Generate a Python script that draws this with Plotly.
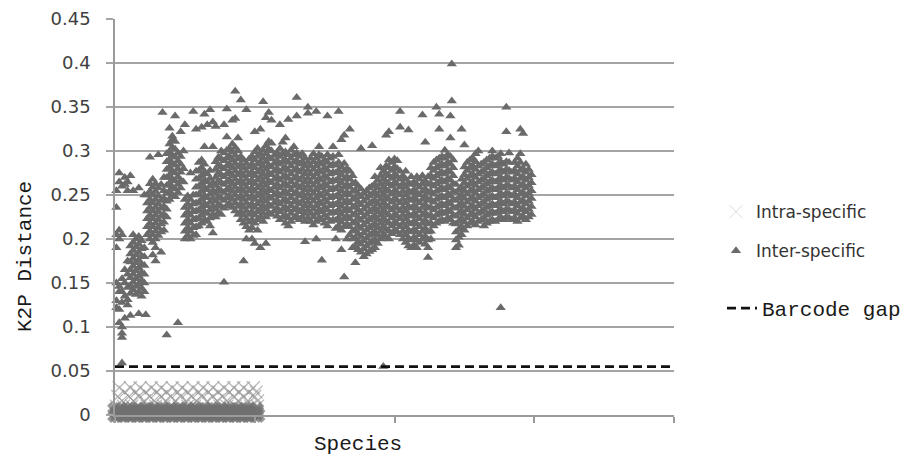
import plotly.graph_objects as go

# ---------------- data ----------------
y_tick_vals = [0, 0.05, 0.1, 0.15, 0.2, 0.25, 0.3, 0.35, 0.4, 0.45]
y_tick_labels = ["0", "0.05", "0.1", "0.15", "0.2", "0.25", "0.3", "0.35", "0.4", "0.45"]
x_tick_vals = [0, 100, 200, 300, 400]

barcode_gap = 0.055
gap_x = [0, 400]

# intra-specific distances: rows of equal distance, x = species index
intra_levels = [0.031, 0.026, 0.021, 0.016, 0.010, 0.006, 0.003, 0.0]
intra_species = [
    [3, 11, 18, 26, 33, 41, 48, 56, 63, 70, 78, 85, 92, 99],
    [7, 15, 22, 30, 37, 45, 52, 60, 67, 74, 82, 89, 96, 101],
    [2, 10, 17, 25, 33, 40, 47, 55, 62, 70, 77, 85, 92, 100],
    [5, 13, 21, 28, 36, 43, 51, 58, 66, 73, 80, 88, 95, 102],
    [1, 6, 12, 17, 23, 29, 35, 40, 46, 52, 57, 63, 69, 75, 80, 86, 92, 97, 102],
    [0, 4, 9, 12, 16, 21, 24, 28, 33, 36, 40, 45, 48, 52, 57, 60, 64, 69, 72, 76, 81, 84, 88, 93, 96, 101],
    [2, 5, 8, 11, 14, 18, 21, 24, 27, 30, 34, 37, 40, 43, 46, 50, 53, 56, 59, 62, 66, 69, 72, 75, 78, 82, 85, 88, 91, 94, 98, 101],
    [0, 2, 5, 7, 10, 12, 15, 17, 20, 22, 25, 27, 30, 32, 35, 37, 40, 42, 45, 47, 50, 52, 55, 57, 60, 62, 65, 67, 70, 72, 75, 77, 80, 82, 85, 87, 90, 92, 95, 97, 100, 102],
]

# inter-specific distances: species index -> list of distances
inter_species = [
    1, 3, 5, 7, 9, 11, 13, 15, 17, 19, 21, 22, 23, 25, 27, 29, 31, 33, 34, 35,
    37, 39, 41, 43, 45, 47, 49, 50, 52, 54, 56, 58, 60, 62, 64, 66, 68, 70,
    72, 74, 76, 78, 80, 82, 84, 86, 88, 90, 92, 94, 96, 98, 100, 102,
    104, 106, 108, 110, 112, 114, 116, 118, 120, 122, 124, 126, 128, 130,
    132, 134, 136, 138, 140, 142, 144, 146, 148, 150, 152, 154, 156, 158, 160, 162, 164, 166, 168, 170,
    172, 174, 176, 178, 180, 182, 184, 186, 188,
    190, 192, 194, 196, 198, 200, 202, 204, 206,
    208, 210, 212, 214, 216, 218, 220, 222, 224, 226,
    228, 230, 232, 234, 236, 238, 240, 241, 242,
    244, 246, 248, 250,
    252, 254, 256, 258, 260, 262, 264, 266, 268, 270, 272,
    274, 276, 278, 280, 282, 284, 286, 288, 290, 292, 294, 296, 298,
]
inter_dist = [
    [0.122, 0.13, 0.15, 0.19, 0.205, 0.236, 0.255],
    [0.105, 0.12, 0.14, 0.146, 0.2, 0.21, 0.265, 0.275],
    [0.059, 0.088, 0.093, 0.1, 0.128, 0.14, 0.155, 0.205, 0.26],
    [0.11, 0.135, 0.15, 0.165, 0.262, 0.27],
    [0.125, 0.131, 0.145, 0.16, 0.175, 0.255, 0.265],
    [0.113, 0.138, 0.147, 0.156, 0.165, 0.174, 0.183, 0.192, 0.272],
    [0.142, 0.151, 0.16, 0.169, 0.178, 0.187, 0.196, 0.205, 0.255],
    [0.137, 0.146, 0.155, 0.164, 0.173, 0.182, 0.191, 0.2],
    [0.115, 0.14, 0.149, 0.158, 0.167, 0.176, 0.185, 0.194, 0.203, 0.258],
    [0.135, 0.144, 0.153, 0.162, 0.171, 0.18, 0.189, 0.198],
    [0.14, 0.15, 0.16, 0.17, 0.18, 0.19, 0.25],
    [0.114],
    [0.205, 0.214, 0.223, 0.232, 0.241, 0.25],
    [0.2, 0.209, 0.218, 0.227, 0.236, 0.245, 0.254, 0.263, 0.293],
    [0.182, 0.196, 0.205, 0.214, 0.223, 0.232, 0.241, 0.25, 0.259, 0.268],
    [0.175, 0.19, 0.2, 0.209, 0.218, 0.227, 0.236, 0.245, 0.254, 0.263],
    [0.204, 0.213, 0.222, 0.231, 0.24, 0.249, 0.258, 0.296],
    [0.185, 0.208, 0.217, 0.226, 0.235, 0.244, 0.262],
    [0.344],
    [0.21, 0.219, 0.228, 0.237, 0.246, 0.255, 0.27],
    [0.091, 0.225, 0.234, 0.243, 0.252, 0.261, 0.27, 0.279, 0.288, 0.297],
    [0.245, 0.254, 0.263, 0.272, 0.281, 0.29, 0.299, 0.308, 0.326],
    [0.25, 0.259, 0.268, 0.277, 0.286, 0.295, 0.304, 0.313, 0.317],
    [0.248, 0.257, 0.266, 0.275, 0.284, 0.293, 0.302, 0.311, 0.34],
    [0.105, 0.253, 0.262, 0.271, 0.28, 0.289, 0.298],
    [0.258, 0.267, 0.276, 0.285, 0.294, 0.322],
    [0.265, 0.28, 0.3],
    [0.2, 0.209, 0.218, 0.227, 0.236, 0.245, 0.33],
    [0.204, 0.213, 0.222, 0.231, 0.24, 0.249],
    [0.2, 0.209, 0.218, 0.227, 0.236, 0.245, 0.275],
    [0.204, 0.213, 0.222, 0.231, 0.24, 0.25, 0.345],
    [0.205, 0.214, 0.223, 0.232, 0.241, 0.25, 0.259, 0.268, 0.277, 0.325],
    [0.215, 0.224, 0.233, 0.242, 0.251, 0.26, 0.269, 0.278, 0.287],
    [0.218, 0.227, 0.236, 0.245, 0.254, 0.263, 0.272, 0.281, 0.29, 0.327],
    [0.222, 0.231, 0.24, 0.249, 0.258, 0.267, 0.276, 0.285, 0.305, 0.342],
    [0.22, 0.229, 0.238, 0.247, 0.256, 0.265, 0.274, 0.33],
    [0.215, 0.224, 0.233, 0.242, 0.251, 0.26, 0.269, 0.278, 0.347],
    [0.207, 0.228, 0.237, 0.246, 0.255, 0.264, 0.305, 0.333],
    [0.225, 0.234, 0.243, 0.252, 0.261, 0.27, 0.279, 0.288, 0.328],
    [0.23, 0.239, 0.248, 0.257, 0.266, 0.275, 0.284, 0.293],
    [0.228, 0.237, 0.246, 0.255, 0.264, 0.273, 0.282, 0.291, 0.3],
    [0.151, 0.235, 0.244, 0.253, 0.262, 0.271, 0.28, 0.289, 0.298, 0.33],
    [0.238, 0.247, 0.256, 0.265, 0.274, 0.283, 0.292, 0.301, 0.316, 0.348],
    [0.24, 0.249, 0.258, 0.267, 0.276, 0.285, 0.294, 0.303],
    [0.236, 0.245, 0.254, 0.263, 0.272, 0.281, 0.29, 0.299, 0.308, 0.335],
    [0.232, 0.241, 0.25, 0.259, 0.268, 0.277, 0.286, 0.295, 0.304, 0.337, 0.368],
    [0.228, 0.237, 0.246, 0.255, 0.264, 0.273, 0.282, 0.291, 0.3, 0.315],
    [0.222, 0.231, 0.24, 0.249, 0.258, 0.267, 0.276, 0.285, 0.294, 0.358],
    [0.175, 0.218, 0.227, 0.236, 0.245, 0.254, 0.263, 0.272, 0.281, 0.29],
    [0.2, 0.214, 0.223, 0.232, 0.241, 0.25, 0.259, 0.268, 0.277, 0.286, 0.347],
    [0.21, 0.219, 0.228, 0.237, 0.246, 0.255, 0.264, 0.273, 0.282, 0.291],
    [0.2, 0.213, 0.222, 0.231, 0.24, 0.249, 0.258, 0.267, 0.276, 0.285, 0.294],
    [0.195, 0.218, 0.227, 0.236, 0.245, 0.254, 0.263, 0.272, 0.281, 0.29, 0.299, 0.322],
    [0.21, 0.222, 0.231, 0.24, 0.249, 0.258, 0.267, 0.276, 0.285, 0.294, 0.303],
    [0.19, 0.225, 0.234, 0.243, 0.252, 0.261, 0.27, 0.279, 0.288, 0.297, 0.325],
    [0.22, 0.229, 0.238, 0.247, 0.256, 0.265, 0.274, 0.283, 0.292, 0.301, 0.356],
    [0.195, 0.225, 0.234, 0.243, 0.252, 0.261, 0.27, 0.279, 0.288, 0.297, 0.306, 0.338],
    [0.23, 0.239, 0.248, 0.257, 0.266, 0.275, 0.284, 0.293, 0.302, 0.311, 0.344],
    [0.228, 0.237, 0.246, 0.255, 0.264, 0.273, 0.282, 0.291, 0.3, 0.309, 0.335],
    [0.232, 0.241, 0.25, 0.259, 0.268, 0.277, 0.286, 0.295],
    [0.226, 0.235, 0.244, 0.253, 0.262, 0.271, 0.28, 0.289, 0.298],
    [0.222, 0.231, 0.24, 0.249, 0.258, 0.267, 0.276, 0.285, 0.294, 0.303, 0.33],
    [0.225, 0.234, 0.243, 0.252, 0.261, 0.27, 0.279, 0.288, 0.297, 0.31],
    [0.218, 0.227, 0.236, 0.245, 0.254, 0.263, 0.272, 0.281, 0.29, 0.299, 0.315],
    [0.215, 0.224, 0.233, 0.242, 0.251, 0.26, 0.269, 0.278, 0.287, 0.296, 0.336],
    [0.22, 0.229, 0.238, 0.247, 0.256, 0.265, 0.274, 0.283, 0.292, 0.301],
    [0.224, 0.233, 0.242, 0.251, 0.26, 0.269, 0.278, 0.287, 0.296, 0.305],
    [0.226, 0.235, 0.244, 0.253, 0.262, 0.271, 0.28, 0.289, 0.298, 0.34, 0.361],
    [0.222, 0.231, 0.24, 0.249, 0.258, 0.267, 0.276, 0.285, 0.294],
    [0.225, 0.234, 0.243, 0.252, 0.261, 0.27, 0.279, 0.288, 0.297],
    [0.197, 0.22, 0.229, 0.238, 0.247, 0.256, 0.265, 0.274, 0.283, 0.292],
    [0.224, 0.233, 0.242, 0.251, 0.26, 0.269, 0.278, 0.287, 0.343, 0.35],
    [0.22, 0.229, 0.238, 0.247, 0.256, 0.265, 0.274, 0.283, 0.292],
    [0.216, 0.225, 0.234, 0.243, 0.252, 0.261, 0.27, 0.279, 0.288, 0.297],
    [0.2, 0.22, 0.229, 0.238, 0.247, 0.256, 0.265, 0.274, 0.283, 0.292, 0.345],
    [0.224, 0.233, 0.242, 0.251, 0.26, 0.269, 0.278, 0.287, 0.296, 0.305],
    [0.176, 0.222, 0.231, 0.24, 0.249, 0.258, 0.267, 0.276, 0.285, 0.294],
    [0.218, 0.227, 0.236, 0.245, 0.254, 0.263, 0.272, 0.281, 0.29],
    [0.215, 0.224, 0.233, 0.242, 0.251, 0.26, 0.269, 0.278, 0.287, 0.296, 0.34],
    [0.22, 0.229, 0.238, 0.247, 0.256, 0.265, 0.274, 0.283, 0.292],
    [0.222, 0.231, 0.24, 0.249, 0.258, 0.267, 0.276, 0.285, 0.294, 0.305],
    [0.2, 0.212, 0.221, 0.23, 0.239, 0.248, 0.257, 0.266, 0.275, 0.284],
    [0.215, 0.224, 0.233, 0.242, 0.251, 0.26, 0.269, 0.278, 0.287, 0.296, 0.345],
    [0.188, 0.21, 0.219, 0.228, 0.237, 0.246, 0.255, 0.264, 0.273, 0.282, 0.313],
    [0.157, 0.214, 0.223, 0.232, 0.241, 0.25, 0.259, 0.268, 0.277, 0.286, 0.318],
    [0.2, 0.217, 0.226, 0.235, 0.244, 0.253, 0.262, 0.271, 0.28],
    [0.205, 0.214, 0.223, 0.232, 0.241, 0.25, 0.259, 0.268, 0.277, 0.325],
    [0.19, 0.2, 0.209, 0.218, 0.227, 0.236, 0.245, 0.254, 0.263, 0.272],
    [0.173, 0.192, 0.201, 0.21, 0.219, 0.228, 0.237, 0.246, 0.255, 0.264],
    [0.188, 0.197, 0.206, 0.215, 0.224, 0.233, 0.242, 0.251, 0.26],
    [0.185, 0.194, 0.203, 0.212, 0.221, 0.23, 0.239, 0.248, 0.257, 0.303],
    [0.18, 0.189, 0.198, 0.207, 0.216, 0.225, 0.234, 0.243, 0.252],
    [0.183, 0.192, 0.201, 0.21, 0.219, 0.228, 0.237, 0.246, 0.255],
    [0.186, 0.195, 0.204, 0.213, 0.222, 0.231, 0.24, 0.249, 0.258],
    [0.188, 0.197, 0.206, 0.215, 0.224, 0.233, 0.242, 0.251, 0.26, 0.306],
    [0.19, 0.199, 0.208, 0.217, 0.226, 0.235, 0.244, 0.253, 0.262, 0.271],
    [0.195, 0.204, 0.213, 0.222, 0.231, 0.24, 0.249, 0.258, 0.267],
    [0.2, 0.209, 0.218, 0.227, 0.236, 0.245, 0.254, 0.263, 0.272, 0.281],
    [0.055, 0.205, 0.214, 0.223, 0.232, 0.241, 0.25, 0.259, 0.268, 0.277],
    [0.202, 0.211, 0.22, 0.229, 0.238, 0.247, 0.256, 0.265, 0.274, 0.283, 0.318],
    [0.2, 0.209, 0.218, 0.227, 0.236, 0.245, 0.254, 0.263, 0.272, 0.281, 0.29, 0.322],
    [0.206, 0.215, 0.224, 0.233, 0.242, 0.251, 0.26, 0.269, 0.278, 0.287],
    [0.21, 0.219, 0.228, 0.237, 0.246, 0.255, 0.264, 0.273, 0.282, 0.291],
    [0.208, 0.217, 0.226, 0.235, 0.244, 0.253, 0.262, 0.271, 0.28, 0.289],
    [0.205, 0.214, 0.223, 0.232, 0.241, 0.25, 0.259, 0.268, 0.277, 0.327, 0.345],
    [0.2, 0.209, 0.218, 0.227, 0.236, 0.245, 0.254, 0.263, 0.272],
    [0.196, 0.205, 0.214, 0.223, 0.232, 0.241, 0.25, 0.259, 0.268, 0.277],
    [0.192, 0.201, 0.21, 0.219, 0.228, 0.237, 0.246, 0.255, 0.264, 0.324],
    [0.19, 0.199, 0.208, 0.217, 0.226, 0.235, 0.244, 0.253, 0.262, 0.271],
    [0.193, 0.202, 0.211, 0.22, 0.229, 0.238, 0.247, 0.256, 0.265],
    [0.19, 0.199, 0.208, 0.217, 0.226, 0.235, 0.244, 0.253, 0.262, 0.271],
    [0.196, 0.205, 0.214, 0.223, 0.232, 0.241, 0.25, 0.259, 0.268],
    [0.2, 0.209, 0.218, 0.227, 0.236, 0.245, 0.254, 0.263, 0.272, 0.341],
    [0.194, 0.203, 0.212, 0.221, 0.23, 0.239, 0.248, 0.257, 0.266, 0.31],
    [0.179, 0.19, 0.199, 0.208, 0.217, 0.226, 0.235, 0.244, 0.253, 0.262, 0.271],
    [0.2, 0.209, 0.218, 0.227, 0.236, 0.245, 0.254, 0.263, 0.272, 0.281],
    [0.215, 0.224, 0.233, 0.242, 0.251, 0.26, 0.269, 0.278, 0.287],
    [0.218, 0.227, 0.236, 0.245, 0.254, 0.263, 0.272, 0.281, 0.29, 0.35],
    [0.22, 0.229, 0.238, 0.247, 0.256, 0.265, 0.274, 0.283, 0.292, 0.325, 0.342],
    [0.222, 0.231, 0.24, 0.249, 0.258, 0.267, 0.276, 0.285, 0.294],
    [0.22, 0.229, 0.238, 0.247, 0.256, 0.265, 0.274, 0.283, 0.292, 0.301],
    [0.224, 0.233, 0.242, 0.251, 0.26, 0.269, 0.278, 0.287, 0.296],
    [0.222, 0.231, 0.24, 0.249, 0.258, 0.267, 0.276, 0.285, 0.294, 0.315, 0.34],
    [0.357, 0.399],
    [0.218, 0.227, 0.236, 0.245, 0.254, 0.263, 0.272, 0.281, 0.29],
    [0.19, 0.199, 0.208, 0.217, 0.226, 0.235, 0.244, 0.253, 0.262],
    [0.193, 0.202, 0.211, 0.22, 0.229, 0.238, 0.247, 0.256],
    [0.205, 0.214, 0.223, 0.232, 0.241, 0.25, 0.259, 0.268, 0.325],
    [0.21, 0.219, 0.228, 0.237, 0.246, 0.255, 0.264, 0.273, 0.282, 0.307],
    [0.215, 0.224, 0.233, 0.242, 0.251, 0.26, 0.269, 0.278, 0.287],
    [0.218, 0.227, 0.236, 0.245, 0.254, 0.263, 0.272, 0.281, 0.29],
    [0.22, 0.229, 0.238, 0.247, 0.256, 0.265, 0.274, 0.283, 0.292],
    [0.216, 0.225, 0.234, 0.243, 0.252, 0.261, 0.27, 0.279, 0.288, 0.297],
    [0.22, 0.229, 0.238, 0.247, 0.256, 0.265, 0.274, 0.283, 0.3],
    [0.222, 0.231, 0.24, 0.249, 0.258, 0.267, 0.276, 0.285],
    [0.215, 0.224, 0.233, 0.242, 0.251, 0.26, 0.269, 0.278, 0.287],
    [0.218, 0.227, 0.236, 0.245, 0.254, 0.263, 0.272, 0.281, 0.29],
    [0.22, 0.229, 0.238, 0.247, 0.256, 0.265, 0.274, 0.283, 0.292],
    [0.222, 0.231, 0.24, 0.249, 0.258, 0.267, 0.276, 0.285, 0.294, 0.3],
    [0.22, 0.229, 0.238, 0.247, 0.256, 0.265, 0.274, 0.283, 0.292],
    [0.222, 0.231, 0.24, 0.249, 0.258, 0.267, 0.276, 0.285, 0.294],
    [0.122, 0.225, 0.234, 0.243, 0.252, 0.261, 0.27, 0.279, 0.288, 0.297],
    [0.222, 0.231, 0.24, 0.249, 0.258, 0.267, 0.276, 0.285],
    [0.225, 0.234, 0.243, 0.252, 0.261, 0.27, 0.279, 0.288, 0.322, 0.35],
    [0.224, 0.233, 0.242, 0.251, 0.26, 0.269, 0.278, 0.287, 0.298],
    [0.222, 0.231, 0.24, 0.249, 0.258, 0.267, 0.276],
    [0.224, 0.233, 0.242, 0.251, 0.26, 0.269, 0.278, 0.287],
    [0.22, 0.229, 0.238, 0.247, 0.256, 0.265, 0.274, 0.283, 0.292],
    [0.224, 0.233, 0.242, 0.251, 0.26, 0.269, 0.278, 0.287, 0.297, 0.325],
    [0.226, 0.235, 0.244, 0.253, 0.262, 0.271, 0.28, 0.32],
    [0.222, 0.231, 0.24, 0.249, 0.258, 0.267, 0.276, 0.285],
    [0.225, 0.234, 0.243, 0.252, 0.261, 0.27, 0.279],
    [0.228, 0.237, 0.246, 0.255, 0.264, 0.273],
]

# ---------------- build ----------------
intra_x, intra_y = [], []
for lvl, xs in zip(intra_levels, intra_species):
    for xv in xs:
        intra_x.append(xv)
        intra_y.append(lvl)
low = [v <= 0.007 for v in intra_y]
intra_col = ["#707070" if b else "#9a9a9a" for b in low]
intra_sym = ["x" if b else "x-thin" for b in low]
intra_w = [0 if b else 1.2 for b in low]
intra_size = [14 if b else 13 for b in low]

inter_x, inter_y = [], []
for xv, ys in zip(inter_species, inter_dist):
    for yv in ys:
        inter_x.append(xv)
        inter_y.append(yv)

fig = go.Figure()
fig.add_trace(go.Scatter(
    x=intra_x, y=intra_y, mode="markers", name="Intra-specific",
    legendgroup="a", cliponaxis=False, hoverinfo="skip",
    marker=dict(symbol=intra_sym, size=intra_size, color=intra_col,
                line=dict(color=intra_col, width=intra_w)),
))
fig.add_trace(go.Scatter(
    x=inter_x, y=inter_y, mode="markers", name="Inter-specific",
    legendgroup="b", cliponaxis=False, hoverinfo="skip",
    marker=dict(symbol="triangle-up", size=9, color="#6a6a6a", line=dict(width=0)),
))
fig.add_trace(go.Scatter(
    x=gap_x, y=[barcode_gap] * len(gap_x), mode="lines", name="Barcode gap",
    legend="legend2", hoverinfo="skip",
    line=dict(color="#111111", width=2.6, dash="9px,5px"),
))

mono = "Liberation Mono"
fig.update_layout(
    width=918, height=456,
    margin=dict(l=115, r=244, t=19, b=41),
    plot_bgcolor="white", paper_bgcolor="white",
    showlegend=True,
    xaxis=dict(range=[0, 400], tickvals=x_tick_vals, showticklabels=False,
               ticks="outside", ticklen=6, tickwidth=1.5, tickcolor="#9a9a9a",
               showline=True, linecolor="#9a9a9a", linewidth=1.5,
               showgrid=False, zeroline=False, automargin=False),
    yaxis=dict(range=[0, 0.4502], tickvals=y_tick_vals, ticktext=y_tick_labels,
               ticks="outside", ticklen=7, tickwidth=1.5, tickcolor="#a4a4a4",
               showgrid=True, gridcolor="#a4a4a4", gridwidth=1.5,
               showline=True, linecolor="#9a9a9a", linewidth=1.5, zeroline=False,
               ticklabelstandoff=12, automargin=False,
               tickfont=dict(family="DejaVu Sans", size=18, color="#404040")),
    legend=dict(x=(716 - 115) / 559, y=(415 - 194) / 396, xanchor="left", yanchor="top",
                font=dict(family="DejaVu Sans", size=17, color="#333333"),
                tracegroupgap=14, bgcolor="rgba(0,0,0,0)", itemwidth=30),
    legend2=dict(x=(722 - 115) / 559, y=(415 - 288) / 396, xanchor="left", yanchor="top",
                 font=dict(family=mono, size=21, color="#1a1a1a"),
                 bgcolor="rgba(0,0,0,0)", itemwidth=30),
    annotations=[
        dict(text="K2P Distance", x=25, y=257, xref="paper", yref="paper",
             xanchor="center", yanchor="middle",
             showarrow=False, textangle=-90,
             font=dict(family=mono, size=21, color="#1a1a1a")),
        dict(text="Species", x=358, y=444, xref="paper", yref="paper",
             xanchor="center", yanchor="middle",
             showarrow=False, font=dict(family=mono, size=21, color="#1a1a1a")),
    ],
)
# convert annotation pixel positions into paper coordinates
for ann in fig.layout.annotations:
    ann.x = (ann.x - 115) / 559
    ann.y = (415 - ann.y) / 396

fig.write_html("out.html", config={"displayModeBar": False},
               post_script="document.body.style.margin='0px';")
